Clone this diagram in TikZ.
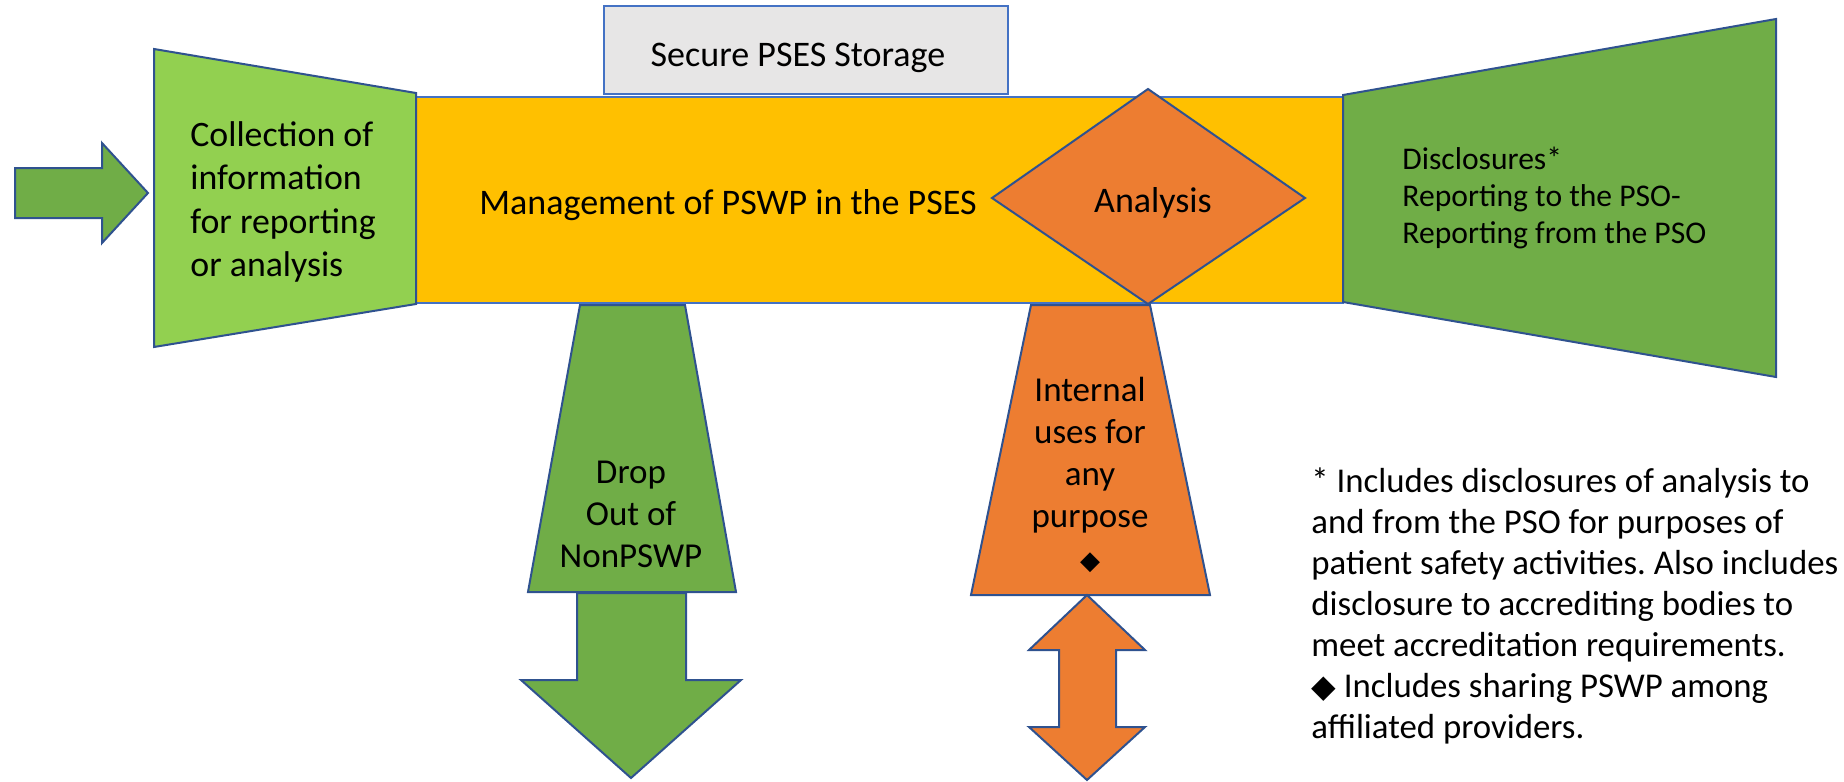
\documentclass[tikz,border=0pt]{standalone}
\usepackage{fontspec}
\setmainfont{Carlito}
\newfontfamily\symfont{DejaVu Sans}
\frenchspacing
\definecolor{lightgreen}{HTML}{92D050}
\definecolor{darkgreen}{HTML}{70AD47}
\definecolor{amber}{HTML}{FFC000}
\definecolor{tangerine}{HTML}{ED7D31}
\definecolor{storagegray}{HTML}{E7E6E6}
\definecolor{edgeblue}{HTML}{2F528F}
\definecolor{mainblue}{HTML}{4472C4}
\newcommand{\blk}[1]{{\symfont\fontsize{#1}{#1}\selectfont\char"25C6}}
\tikzset{
  shapeedge/.style={draw=edgeblue, line width=1pt, line join=miter},
  mainedge/.style={draw=mainblue, line width=1.3pt},
  label35/.style={inner sep=0pt, font=\fontsize{18pt}{21.6pt}\selectfont},
}
\begin{document}
\begin{tikzpicture}[x=0.5pt, y=-0.5pt]
\useasboundingbox (0,0) rectangle (1844,782);

% central band
\path[fill=amber, mainedge] (416,97) rectangle (1343,303);
\node[label35] (mgmt) at (728,205) {Management of PSWP in the PSES};

% storage box above the band
\path[fill=storagegray, shapeedge, draw=mainblue] (604,6) rectangle (1008,94);
\node[label35] (storage) at (798,58) {Secure PSES Storage};

% incoming arrow
\path[fill=darkgreen, shapeedge] (15,168) -- (102,168) -- (102,143) -- (148,193)
  -- (102,243) -- (102,218) -- (15,218) -- cycle;

% collection funnel
\path[fill=lightgreen, shapeedge] (154,49) -- (416,93) -- (416,304) -- (154,347) -- cycle;
\node[label35, anchor=west, align=left, font=\fontsize{17.9pt}{21.8pt}\selectfont] (collect) at (190,202)
  {Collection of\\information\\for reporting\\or analysis};

% disclosures funnel
\path[fill=darkgreen, shapeedge] (1343,95) -- (1776,19) -- (1776,377) -- (1343,302) -- cycle;
\node[inner sep=0pt, anchor=west, align=left,
  font=\fontsize{15.8pt}{18.4pt}\selectfont] (disc) at (1402,198)
  {Disclosures*\\Reporting to the PSO-\\Reporting from the PSO};

% analysis diamond
\path[fill=tangerine, shapeedge] (1148,89) -- (1305,198) -- (1148,304) -- (992,198) -- cycle;
\node[label35] (analysis) at (1153,203) {Analysis};

% drop-out funnel and arrow
\path[fill=darkgreen, shapeedge] (580,305) -- (685,305) -- (736,592) -- (528,592) -- cycle;
\node[label35, align=center, font=\fontsize{17.5pt}{21pt}\selectfont] (drop) at (631,514)
  {Drop\\Out of\\NonPSWP};
\path[fill=darkgreen, shapeedge] (577,593) -- (686,593) -- (686,680) -- (741,680)
  -- (631,778) -- (521,680) -- (577,680) -- cycle;

% internal uses funnel and two-way arrow
\path[fill=tangerine, shapeedge] (1031,305) -- (1150,305) -- (1210,595) -- (971,595) -- cycle;
\node[label35, align=center, font=\fontsize{17.5pt}{21pt}\selectfont] (internal) at (1090,475)
  {Internal\\uses for\\any\\purpose\\\blk{13pt}};
\path[fill=tangerine, shapeedge] (1087,595) -- (1145,650) -- (1116,650) -- (1116,727)
  -- (1145,727) -- (1087,780) -- (1029,727) -- (1059,727) -- (1059,650) -- (1029,650) -- cycle;

% footnotes
\node[inner sep=0pt, anchor=west, align=left,
  font=\fontsize{17.4pt}{20.5pt}\selectfont] (notes) at (1311,606)
  {* Includes disclosures of analysis to\\
   and from the PSO for purposes of\\
   patient safety activities. Also includes\\
   disclosure to accrediting bodies to\\
   meet accreditation requirements.\\
   \blk{16pt}\ Includes sharing PSWP among\\
   affiliated providers.};
\end{tikzpicture}
\end{document}
